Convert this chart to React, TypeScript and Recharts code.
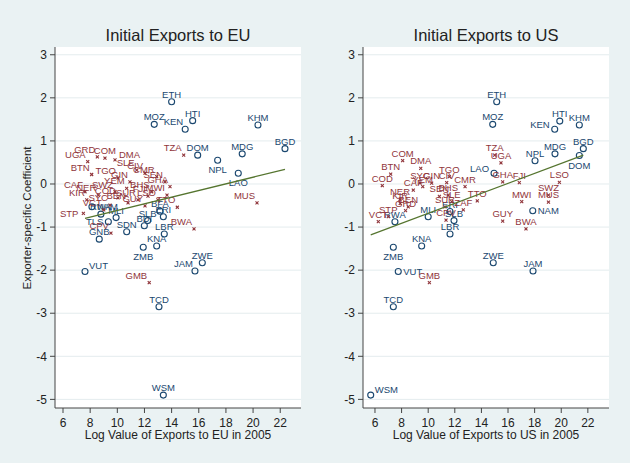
import React from 'react';
import { ScatterChart, Scatter, XAxis, YAxis, CartesianGrid } from 'recharts';

type Pt = { name: string; x: number; y: number };

const NAVY = '#1a476f';
const MAROON = '#90353b';
const GREEN = '#55752f';
const BG = '#eaf2f3';
const FONT = "'Liberation Sans', Arial, sans-serif";

const xTicks = [6, 8, 10, 12, 14, 16, 18, 20, 22];
const yTicks = [-5, -4, -3, -2, -1, 0, 1, 2, 3];

// exporters to the EU
const euNavy: Pt[] = [
  { name: 'ETH', x: 14.0, y: 1.91 },
  { name: 'MOZ', x: 12.72, y: 1.385 },
  { name: 'KEN', x: 15.0, y: 1.27 },
  { name: 'HTI', x: 15.55, y: 1.47 },
  { name: 'KHM', x: 20.36, y: 1.37 },
  { name: 'BGD', x: 22.35, y: 0.82 },
  { name: 'DOM', x: 15.92, y: 0.67 },
  { name: 'NPL', x: 17.39, y: 0.55 },
  { name: 'MDG', x: 19.2, y: 0.7 },
  { name: 'LAO', x: 18.91, y: 0.25 },
  { name: 'NAM', x: 8.13, y: -0.53 },
  { name: 'RWA', x: 8.79, y: -0.7 },
  { name: 'MLI', x: 9.91, y: -0.78 },
  { name: 'BFA', x: 13.14, y: -0.63 },
  { name: 'GNB', x: 8.67, y: -1.28 },
  { name: 'TLS', x: 9.34, y: -0.875 },
  { name: 'SDN', x: 10.69, y: -1.11 },
  { name: 'BDI', x: 11.99, y: -0.97 },
  { name: 'SLB', x: 12.24, y: -0.85 },
  { name: 'ERI', x: 13.39, y: -0.76 },
  { name: 'LBR', x: 13.46, y: -1.16 },
  { name: 'KNA', x: 12.9, y: -1.44 },
  { name: 'ZMB', x: 11.91, y: -1.47 },
  { name: 'VUT', x: 7.62, y: -2.03 },
  { name: 'JAM', x: 15.72, y: -2.02 },
  { name: 'ZWE', x: 16.26, y: -1.83 },
  { name: 'TCD', x: 13.07, y: -2.85 },
  { name: 'WSM', x: 13.39, y: -4.9 },
];

const euMaroon: Pt[] = [
  { name: 'UGA', x: 7.82, y: 0.52 },
  { name: 'GRD', x: 8.53, y: 0.63 },
  { name: 'COM', x: 9.09, y: 0.6 },
  { name: 'DMA', x: 9.83, y: 0.56 },
  { name: 'BTN', x: 8.11, y: 0.22 },
  { name: 'TGO', x: 10.05, y: 0.14 },
  { name: 'GIN', x: 10.93, y: 0.05 },
  { name: 'SLE', x: 11.43, y: 0.32 },
  { name: 'CIV', x: 12.04, y: 0.25 },
  { name: 'CMR', x: 12.9, y: 0.17 },
  { name: 'SEN', x: 13.51, y: 0.05 },
  { name: 'GHA', x: 13.88, y: -0.06 },
  { name: 'CAF', x: 7.62, y: -0.18 },
  { name: 'KIR', x: 7.75, y: -0.37 },
  { name: 'NER', x: 8.6, y: -0.26 },
  { name: 'SWZ', x: 9.83, y: -0.18 },
  { name: 'YEM', x: 10.69, y: -0.1 },
  { name: 'BHS', x: 12.53, y: -0.18 },
  { name: 'STP', x: 7.5, y: -0.68 },
  { name: 'COD', x: 10.05, y: -0.32 },
  { name: 'BEN', x: 10.79, y: -0.44 },
  { name: 'SUR', x: 11.52, y: -0.37 },
  { name: 'FJI', x: 12.26, y: -0.28 },
  { name: 'LSO', x: 12.99, y: -0.37 },
  { name: 'MWI', x: 13.66, y: -0.26 },
  { name: 'SYC', x: 9.46, y: -0.49 },
  { name: 'GUY', x: 12.04, y: -0.51 },
  { name: 'VCT', x: 9.0, y: -0.6 },
  { name: 'TTO', x: 14.42, y: -0.54 },
  { name: 'CPV', x: 9.53, y: -1.14 },
  { name: 'TZA', x: 14.89, y: 0.67 },
  { name: 'MUS', x: 20.29, y: -0.44 },
  { name: 'BWA', x: 15.65, y: -1.04 },
  { name: 'GMB', x: 12.35, y: -2.29 },
];

const euFit: Pt[] = [
  { name: 'fit', x: 7.62, y: -0.8 },
  { name: 'fit', x: 22.35, y: 0.34 },
];

// exporters to the US
const usNavy: Pt[] = [
  { name: 'ETH', x: 15.15, y: 1.91 },
  { name: 'MOZ', x: 14.85, y: 1.385 },
  { name: 'HTI', x: 19.89, y: 1.46 },
  { name: 'KEN', x: 19.51, y: 1.27 },
  { name: 'KHM', x: 21.36, y: 1.37 },
  { name: 'BGD', x: 21.66, y: 0.82 },
  { name: 'DOM', x: 21.36, y: 0.66 },
  { name: 'MDG', x: 19.53, y: 0.7 },
  { name: 'NPL', x: 18.03, y: 0.54 },
  { name: 'LAO', x: 14.95, y: 0.25 },
  { name: 'NAM', x: 17.86, y: -0.62 },
  { name: 'RWA', x: 7.5, y: -0.875 },
  { name: 'MLI', x: 10.0, y: -0.76 },
  { name: 'ERI', x: 11.64, y: -0.64 },
  { name: 'SLB', x: 11.94, y: -0.85 },
  { name: 'LBR', x: 11.64, y: -1.16 },
  { name: 'KNA', x: 9.51, y: -1.44 },
  { name: 'ZMB', x: 7.38, y: -1.47 },
  { name: 'VUT', x: 7.75, y: -2.03 },
  { name: 'TCD', x: 7.38, y: -2.85 },
  { name: 'ZWE', x: 14.89, y: -1.83 },
  { name: 'JAM', x: 17.88, y: -2.02 },
  { name: 'WSM', x: 5.68, y: -4.9 },
];

const usMaroon: Pt[] = [
  { name: 'TZA', x: 15.0, y: 0.67 },
  { name: 'UGA', x: 15.47, y: 0.49 },
  { name: 'GHA', x: 15.6, y: 0.05 },
  { name: 'FJI', x: 16.85, y: 0.03 },
  { name: 'LSO', x: 19.86, y: 0.04 },
  { name: 'SWZ', x: 19.04, y: -0.26 },
  { name: 'MUS', x: 19.04, y: -0.42 },
  { name: 'MWI', x: 17.03, y: -0.41 },
  { name: 'TTO', x: 13.69, y: -0.39 },
  { name: 'GUY', x: 15.6, y: -0.86 },
  { name: 'BWA', x: 17.35, y: -1.04 },
  { name: 'CMR', x: 12.77, y: -0.06 },
  { name: 'ZAF', x: 12.64, y: -0.6 },
  { name: 'COM', x: 8.08, y: 0.54 },
  { name: 'DMA', x: 9.44, y: 0.36 },
  { name: 'BTN', x: 7.18, y: 0.23 },
  { name: 'COD', x: 6.55, y: -0.04 },
  { name: 'TGO', x: 11.59, y: 0.17 },
  { name: 'GIN', x: 10.26, y: 0.02 },
  { name: 'SYC', x: 9.38, y: 0.02 },
  { name: 'CIV', x: 11.39, y: 0.03 },
  { name: 'BHS', x: 11.51, y: -0.26 },
  { name: 'YEM', x: 9.59, y: -0.06 },
  { name: 'CAF', x: 8.88, y: -0.14 },
  { name: 'NER', x: 7.88, y: -0.36 },
  { name: 'SEN', x: 10.84, y: -0.29 },
  { name: 'BEN', x: 8.5, y: -0.53 },
  { name: 'SUR', x: 11.26, y: -0.53 },
  { name: 'SLE', x: 11.77, y: -0.41 },
  { name: 'KIR', x: 7.9, y: -0.45 },
  { name: 'GRD', x: 8.3, y: -0.62 },
  { name: 'STP', x: 7.0, y: -0.76 },
  { name: 'VCT', x: 6.25, y: -0.875 },
  { name: 'CPV', x: 11.34, y: -0.84 },
  { name: 'GMB', x: 10.09, y: -2.29 },
];

const usFit: Pt[] = [
  { name: 'fit', x: 5.68, y: -1.18 },
  { name: 'fit', x: 21.66, y: 0.67 },
];

// label placement as clock positions: [dx, dy, anchor]
const CLOCK: Record<number, [number, number, 'start' | 'middle' | 'end']> = {
  12: [0, -4, 'middle'],
  1: [2, -4, 'start'],
  2: [4, -2, 'start'],
  3: [5, 3.5, 'start'],
  6: [0, 13, 'middle'],
  9: [-5, 3.5, 'end'],
  10: [-5, -1, 'end'],
  11: [-2, -4, 'end'],
};

const euPos: Record<string, number> = {
  KEN: 11, NPL: 6, LAO: 6, ZMB: 6, VUT: 2, JAM: 11, TLS: 9, NAM: 3,
  COM: 12, DMA: 2, STP: 9,
};
const usPos: Record<string, number> = {
  KEN: 10, DOM: 6, LAO: 10, NAM: 3, VUT: 3, ZMB: 6, WSM: 2,
};

const makeShape =
  (kind: 'circle' | 'cross', pos: Record<string, number>, fallback: number) =>
  (props: any) => {
    const { cx, cy, payload } = props;
    if (cx == null || cy == null) return <g />;
    const [dx, dy, anchor] = CLOCK[pos[payload.name] ?? fallback];
    const color = kind === 'circle' ? NAVY : MAROON;
    return (
      <g>
        {kind === 'circle' ? (
          <circle cx={cx} cy={cy} r={3} fill="none" stroke={color} strokeWidth={1.1} />
        ) : (
          <g stroke={color} strokeWidth={1.1}>
            <line x1={cx - 1.5} y1={cy - 1.5} x2={cx + 1.5} y2={cy + 1.5} />
            <line x1={cx - 1.5} y1={cy + 1.5} x2={cx + 1.5} y2={cy - 1.5} />
          </g>
        )}
        <text
          x={cx + dx}
          y={cy + dy}
          textAnchor={anchor}
          fontSize={9.5}
          fontFamily={FONT}
          fill={color}
        >
          {payload.name}
        </text>
      </g>
    );
  };

interface PanelProps {
  left: number;
  title: string;
  xLabel: string;
  xDomain: [number, number];
  navy: Pt[];
  maroon: Pt[];
  fit: Pt[];
  pos: Record<string, number>;
  maroonPos: number;
  margin: { top: number; right: number; bottom: number; left: number };
}

const Panel = ({ left, title, xLabel, xDomain, navy, maroon, fit, pos, maroonPos, margin }: PanelProps) => {
  const plotLeft = margin.left + 35;
  const plotRight = 315 - margin.right;
  const mid = (plotLeft + plotRight) / 2;
  return (
    <div style={{ position: 'absolute', left, top: 0, width: 315, height: 463 }}>
      <div
        style={{
          position: 'absolute', left: mid, top: 35, transform: 'translate(-50%, -50%)',
          whiteSpace: 'nowrap', fontSize: 16.5, color: '#222', fontFamily: FONT,
        }}
      >
        {title}
      </div>
      <ScatterChart width={315} height={463} margin={margin}>
        <CartesianGrid vertical={false} fill="#ffffff" stroke="#e4ecee" horizontalValues={yTicks} />
        <XAxis
          type="number"
          dataKey="x"
          domain={xDomain}
          ticks={xTicks}
          allowDataOverflow
          height={30}
          tickSize={5}
          tickMargin={5}
          stroke="#444"
          tick={{ fill: '#222', fontSize: 12, fontFamily: FONT }}
        />
        <YAxis
          type="number"
          dataKey="y"
          domain={[-5.2, 3.18]}
          ticks={yTicks}
          allowDataOverflow
          width={35}
          tickSize={5}
          tickMargin={3}
          stroke="#444"
          tick={{ fill: '#222', fontSize: 12, fontFamily: FONT }}
        />
        <Scatter data={navy} shape={makeShape('circle', pos, 12)} isAnimationActive={false} />
        <Scatter data={maroon} shape={makeShape('cross', pos, maroonPos)} isAnimationActive={false} />
        <Scatter
          data={fit}
          line={{ stroke: GREEN, strokeWidth: 1.3 }}
          shape={() => <g />}
          isAnimationActive={false}
        />
      </ScatterChart>
      <div
        style={{
          position: 'absolute', left: mid, top: 435, transform: 'translate(-50%, -50%)',
          whiteSpace: 'nowrap', fontSize: 12, color: '#222', fontFamily: FONT,
        }}
      >
        {xLabel}
      </div>
    </div>
  );
};

export default function App() {
  return (
    <div
      style={{
        position: 'absolute', left: 0, top: 0, width: 630, height: 463,
        background: BG, overflow: 'hidden', fontFamily: FONT,
      }}
    >
      <div
        style={{
          position: 'absolute', left: 27, top: 218, transform: 'translate(-50%, -50%) rotate(-90deg)',
          whiteSpace: 'nowrap', fontSize: 11.5, color: '#222', fontFamily: FONT,
        }}
      >
        Exporter-specific Coefficient
      </div>
      <Panel
        left={0}
        title="Initial Exports to EU"
        xLabel="Log Value of Exports to EU in 2005"
        xDomain={[5.41, 23.53]}
        navy={euNavy}
        maroon={euMaroon}
        fit={euFit}
        pos={euPos}
        maroonPos={11}
        margin={{ top: 47, right: 14, bottom: 25, left: 20 }}
      />
      <Panel
        left={315}
        title="Initial Exports to US"
        xLabel="Log Value of Exports to US in 2005"
        xDomain={[5.1, 23.59]}
        navy={usNavy}
        maroon={usMaroon}
        fit={usFit}
        pos={usPos}
        maroonPos={12}
        margin={{ top: 47, right: 21, bottom: 25, left: 13 }}
      />
    </div>
  );
}
